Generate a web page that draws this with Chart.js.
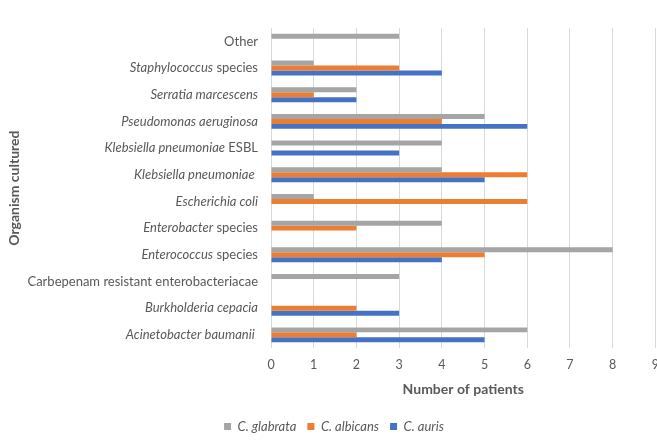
<!DOCTYPE html>
<html>
<head>
<meta charset="utf-8">
<script src="https://cdn.jsdelivr.net/npm/chart.js@4/dist/chart.umd.min.js"></script>
<style>
  html, body { margin: 0; padding: 0; background: #fff; overflow: hidden; }
  #wrap { width: 657px; height: 443px; overflow: hidden; position: relative; }
</style>
</head>
<body>
<div id="wrap"><canvas id="organismchart" width="668" height="443"></canvas></div>
<script>
// *text* marks the italic part of a label
const organisms = [
    'Other',
    '*Staphylococcus* species',
    '*Serratia marcescens*',
    '*Pseudomonas aeruginosa*',
    '*Klebsiella pneumoniae* ESBL',
    '*Klebsiella pneumoniae* ',
    '*Escherichia coli*',
    '*Enterobacter* species',
    '*Enterococcus* species',
    'Carbepenam resistant enterobacteriacae',
    '*Burkholderia cepacia*',
    '*Acinetobacter baumanii* '
];
const glabrata = [3, 1, 2, 5, 4, 4, 1, 4, 8, 3, 0, 6];
const albicans = [0, 3, 1, 4, 0, 6, 6, 2, 5, 0, 2, 2];
const auris = [0, 4, 2, 6, 3, 5, 0, 0, 4, 0, 3, 5];
const seriesNames = ['C. glabrata', 'C. albicans', 'C. auris'];
const patientTicks = [0, 1, 2, 3, 4, 5, 6, 7, 8, 9];

const textColor = '#595959';
const fontFamily = 'Lato, "Open Sans", sans-serif';

document.addEventListener('DOMContentLoaded', function() {
    const ctx = document.getElementById('organismchart').getContext('2d');

    // draws the category labels with mixed italic / upright pieces
    const mixedLabels = {
        id: 'mixedLabels',
        afterDraw: function(chart) {
            const yScale = chart.scales.y;
            const c = chart.ctx;
            const rightX = chart.chartArea.left - 13;
            c.save();
            c.fillStyle = textColor;
            c.textBaseline = 'middle';
            c.textAlign = 'left';
            organisms.forEach(function(label, i) {
                const parts = label.split('*').map(function(t, k) {
                    return { text: t, italic: k % 2 === 1 };
                }).filter(p => p.text.length > 0);
                let total = 0;
                parts.forEach(function(p) {
                    c.font = (p.italic ? 'italic ' : '') + '13px ' + fontFamily;
                    p.w = c.measureText(p.text).width;
                    total += p.w;
                });
                let x = rightX - total;
                const y = yScale.getPixelForTick(i);
                parts.forEach(function(p) {
                    c.font = (p.italic ? 'italic ' : '') + '13px ' + fontFamily;
                    c.fillText(p.text, x, y);
                    x += p.w;
                });
            });
            c.restore();
        }
    };

    const organismChart = new Chart(ctx, {
        type: 'bar',
        data: {
            labels: organisms.map(l => l.replace(/\*/g, '').trim()),
            datasets: [
                { label: seriesNames[0], data: glabrata, backgroundColor: '#a5a5a5' },
                { label: seriesNames[1], data: albicans, backgroundColor: '#ed7d31' },
                { label: seriesNames[2], data: auris, backgroundColor: '#4472c4' }
            ]
        },
        options: {
            indexAxis: 'y',
            responsive: false,
            animation: false,
            categoryPercentage: 0.56,
            barPercentage: 1,
            layout: { padding: { top: 28, bottom: 0, right: 0, left: 0 } },
            scales: {
                x: {
                    min: 0,
                    max: patientTicks[patientTicks.length - 1],
                    afterBuildTicks: function(scale) {
                        scale.ticks = patientTicks.map(v => ({ value: v }));
                    },
                    grid: { color: '#d9d9d9', drawTicks: false },
                    border: { display: false },
                    ticks: {
                        color: textColor,
                        padding: 9,
                        font: { family: fontFamily, size: 12.5 }
                    },
                    title: {
                        display: true,
                        text: 'Number of patients',
                        color: textColor,
                        padding: { top: 0, bottom: 11 },
                        font: { family: fontFamily, size: 14, weight: 'bold' }
                    }
                },
                y: {
                    grid: { display: false },
                    border: { display: false },
                    ticks: { callback: () => '' },
                    afterFit: function(scale) { scale.width = 271; },
                    title: {
                        display: true,
                        text: 'Organism cultured',
                        color: textColor,
                        padding: { top: 6, bottom: 4 },
                        font: { family: fontFamily, size: 14, weight: 'bold' }
                    }
                }
            },
            plugins: {
                legend: {
                    position: 'bottom',
                    labels: {
                        boxWidth: 7,
                        boxHeight: 7,
                        padding: 11,
                        color: textColor,
                        font: { family: fontFamily, size: 13, style: 'italic' }
                    }
                },
                tooltip: { enabled: false }
            }
        },
        plugins: [mixedLabels]
    });
});
</script>
</body>
</html>
